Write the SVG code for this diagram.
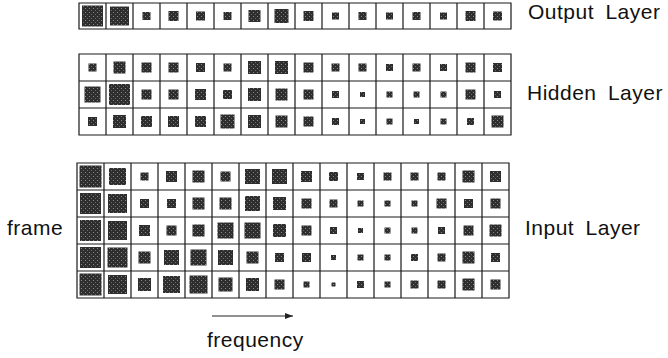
<svg xmlns="http://www.w3.org/2000/svg" width="668" height="358" viewBox="0 0 668 358">
<style>
.g{fill:none;stroke:#1a1a1a;stroke-width:1.2}
.d{fill:url(#st)}
.t{font-family:"Liberation Sans",Arial,sans-serif;font-size:21px;letter-spacing:0.5px;word-spacing:5px;fill:#111}
.c{stroke:#222;stroke-width:1;fill:none}
</style>
<defs>
<pattern id="st" width="4" height="4" patternUnits="userSpaceOnUse">
<rect width="4" height="4" fill="#2e2e2e"/>
<rect x="1" y="0" width="1" height="1" fill="#8a8a8a"/>
<rect x="3" y="2" width="1" height="1" fill="#6a6a6a"/>
</pattern>
<marker id="ah" viewBox="0 0 8 6" refX="8" refY="3" markerWidth="8" markerHeight="6" markerUnits="userSpaceOnUse" orient="auto">
<path d="M0,0 L8,3 L0,6 z" fill="#222"/>
</marker>
</defs>
<rect width="668" height="358" fill="#fff"/>

<g id="output-layer">
<path class="g" d="M79,3h432v26h-432z M106,3v26 M133,3v26 M160,3v26 M187,3v26 M214,3v26 M241,3v26 M268,3v26 M295,3v26 M322,3v26 M349,3v26 M376,3v26 M403,3v26 M430,3v26 M457,3v26 M484,3v26"/>
<g class="d">
<rect x="82" y="5.5" width="21" height="21"/>
<rect x="110" y="6.5" width="19" height="19"/>
<rect x="142.5" y="12" width="8" height="8"/>
<rect x="168.5" y="11" width="10" height="10"/>
<rect x="196" y="11.5" width="9" height="9"/>
<rect x="223.5" y="12" width="8" height="8"/>
<rect x="248.5" y="10" width="12" height="12"/>
<rect x="274.5" y="9" width="14" height="14"/>
<rect x="303.5" y="11" width="10" height="10"/>
<rect x="332" y="12.5" width="7" height="7"/>
<rect x="358.5" y="12" width="8" height="8"/>
<rect x="386" y="12.5" width="7" height="7"/>
<rect x="412.5" y="12" width="8" height="8"/>
<rect x="440" y="12.5" width="7" height="7"/>
<rect x="465.5" y="11" width="10" height="10"/>
<rect x="493" y="11.5" width="9" height="9"/>
</g>
<text class="t" x="528" y="19">Output Layer</text>
</g>

<g id="hidden-layer">
<path class="g" d="M79,54h432v81h-432z M79,81h432 M79,108h432 M106,54v81 M133,54v81 M160,54v81 M187,54v81 M214,54v81 M241,54v81 M268,54v81 M295,54v81 M322,54v81 M349,54v81 M376,54v81 M403,54v81 M430,54v81 M457,54v81 M484,54v81"/>
<g class="d">
<rect x="88.5" y="63.5" width="8" height="8"/>
<rect x="113.5" y="61.5" width="12" height="12"/>
<rect x="141.5" y="62.5" width="10" height="10"/>
<rect x="168.5" y="62.5" width="10" height="10"/>
<rect x="196" y="63" width="9" height="9"/>
<rect x="223.5" y="63.5" width="8" height="8"/>
<rect x="248" y="61" width="13" height="13"/>
<rect x="275" y="61" width="13" height="13"/>
<rect x="303.5" y="62.5" width="10" height="10"/>
<rect x="331.5" y="63.5" width="8" height="8"/>
<rect x="358.5" y="63.5" width="8" height="8"/>
<rect x="386" y="64" width="7" height="7"/>
<rect x="412.5" y="63.5" width="8" height="8"/>
<rect x="440" y="64" width="7" height="7"/>
<rect x="465.5" y="62.5" width="10" height="10"/>
<rect x="493" y="63" width="9" height="9"/>

<rect x="84.5" y="86.5" width="16" height="16"/>
<rect x="109" y="84" width="21" height="21"/>
<rect x="141.5" y="89.5" width="10" height="10"/>
<rect x="168.5" y="89.5" width="10" height="10"/>
<rect x="195" y="89" width="11" height="11"/>
<rect x="223" y="90" width="9" height="9"/>
<rect x="248" y="88" width="13" height="13"/>
<rect x="275.5" y="88.5" width="12" height="12"/>
<rect x="303.5" y="89.5" width="10" height="10"/>
<rect x="332" y="91" width="7" height="7"/>
<rect x="360" y="92" width="5" height="5"/>
<rect x="386.5" y="91.5" width="6" height="6"/>
<rect x="413.5" y="91.5" width="6" height="6"/>
<rect x="440.5" y="91.5" width="6" height="6"/>
<rect x="465.5" y="89.5" width="10" height="10"/>
<rect x="494" y="91" width="7" height="7"/>

<rect x="88" y="117" width="9" height="9"/>
<rect x="113" y="115" width="13" height="13"/>
<rect x="141" y="116" width="11" height="11"/>
<rect x="168" y="116" width="11" height="11"/>
<rect x="195" y="116" width="11" height="11"/>
<rect x="220.5" y="114.5" width="14" height="14"/>
<rect x="248" y="115" width="13" height="13"/>
<rect x="275.5" y="115.5" width="12" height="12"/>
<rect x="303.5" y="116.5" width="10" height="10"/>
<rect x="332" y="118" width="7" height="7"/>
<rect x="360" y="119" width="5" height="5"/>
<rect x="386.5" y="118.5" width="6" height="6"/>
<rect x="414" y="119" width="5" height="5"/>
<rect x="440.5" y="118.5" width="6" height="6"/>
<rect x="467" y="118" width="7" height="7"/>
<rect x="491.5" y="115.5" width="12" height="12"/>
</g>
<text class="t" x="527" y="100">Hidden Layer</text>
</g>

<g id="input-layer">
<path class="g" d="M77,163h432v135h-432z M77,190h432 M77,217h432 M77,244h432 M77,271h432 M104,163v135 M131,163v135 M158,163v135 M185,163v135 M212,163v135 M239,163v135 M266,163v135 M293,163v135 M320,163v135 M347,163v135 M374,163v135 M401,163v135 M428,163v135 M455,163v135 M482,163v135"/>
<g class="d">
<rect x="79.5" y="165.5" width="22" height="22"/>
<rect x="109" y="168" width="17" height="17"/>
<rect x="140.5" y="172.5" width="8" height="8"/>
<rect x="166" y="171" width="11" height="11"/>
<rect x="192.5" y="170.5" width="12" height="12"/>
<rect x="220.5" y="171.5" width="10" height="10"/>
<rect x="245" y="169" width="15" height="15"/>
<rect x="272" y="169" width="15" height="15"/>
<rect x="301" y="171" width="11" height="11"/>
<rect x="329" y="172" width="9" height="9"/>
<rect x="357" y="173" width="7" height="7"/>
<rect x="383.5" y="172.5" width="8" height="8"/>
<rect x="410.5" y="172.5" width="8" height="8"/>
<rect x="437.5" y="172.5" width="8" height="8"/>
<rect x="462.5" y="170.5" width="12" height="12"/>
<rect x="490" y="171" width="11" height="11"/>

<rect x="80" y="193" width="21" height="21"/>
<rect x="108" y="194" width="19" height="19"/>
<rect x="140" y="199" width="9" height="9"/>
<rect x="167" y="199" width="9" height="9"/>
<rect x="192.5" y="197.5" width="12" height="12"/>
<rect x="219.5" y="197.5" width="12" height="12"/>
<rect x="245" y="196" width="15" height="15"/>
<rect x="273" y="197" width="13" height="13"/>
<rect x="301.5" y="198.5" width="10" height="10"/>
<rect x="329.5" y="199.5" width="8" height="8"/>
<rect x="357.5" y="200.5" width="6" height="6"/>
<rect x="384.5" y="200.5" width="6" height="6"/>
<rect x="411.5" y="200.5" width="6" height="6"/>
<rect x="436.5" y="198.5" width="10" height="10"/>
<rect x="464" y="199" width="9" height="9"/>
<rect x="490.5" y="198.5" width="10" height="10"/>

<rect x="80" y="220" width="21" height="21"/>
<rect x="108" y="221" width="19" height="19"/>
<rect x="139" y="225" width="11" height="11"/>
<rect x="166.5" y="225.5" width="10" height="10"/>
<rect x="192.5" y="224.5" width="12" height="12"/>
<rect x="217.5" y="222.5" width="16" height="16"/>
<rect x="244.5" y="222.5" width="16" height="16"/>
<rect x="273" y="224" width="13" height="13"/>
<rect x="301.5" y="225.5" width="10" height="10"/>
<rect x="330" y="227" width="7" height="7"/>
<rect x="358" y="228" width="5" height="5"/>
<rect x="384.5" y="227.5" width="6" height="6"/>
<rect x="411.5" y="227.5" width="6" height="6"/>
<rect x="438" y="227" width="7" height="7"/>
<rect x="463.5" y="225.5" width="10" height="10"/>
<rect x="489.5" y="224.5" width="12" height="12"/>

<rect x="80" y="247" width="21" height="21"/>
<rect x="107.5" y="247.5" width="20" height="20"/>
<rect x="138.5" y="251.5" width="12" height="12"/>
<rect x="164" y="250" width="15" height="15"/>
<rect x="190.5" y="249.5" width="16" height="16"/>
<rect x="218" y="250" width="15" height="15"/>
<rect x="246.5" y="251.5" width="12" height="12"/>
<rect x="275" y="253" width="9" height="9"/>
<rect x="302" y="253" width="9" height="9"/>
<rect x="331" y="255" width="5" height="5"/>
<rect x="357.5" y="254.5" width="6" height="6"/>
<rect x="384.5" y="254.5" width="6" height="6"/>
<rect x="411" y="254" width="7" height="7"/>
<rect x="437.5" y="253.5" width="8" height="8"/>
<rect x="462.5" y="251.5" width="12" height="12"/>
<rect x="491" y="253" width="9" height="9"/>

<rect x="79.5" y="273.5" width="22" height="22"/>
<rect x="108" y="275" width="19" height="19"/>
<rect x="138" y="278" width="13" height="13"/>
<rect x="163" y="276" width="17" height="17"/>
<rect x="189.5" y="275.5" width="18" height="18"/>
<rect x="218.5" y="277.5" width="14" height="14"/>
<rect x="246" y="278" width="13" height="13"/>
<rect x="274.5" y="279.5" width="10" height="10"/>
<rect x="303.5" y="281.5" width="6" height="6"/>
<rect x="331.5" y="282.5" width="4" height="4"/>
<rect x="357" y="281" width="7" height="7"/>
<rect x="384.5" y="281.5" width="6" height="6"/>
<rect x="410.5" y="280.5" width="8" height="8"/>
<rect x="437.5" y="280.5" width="8" height="8"/>
<rect x="462.5" y="278.5" width="12" height="12"/>
<rect x="490.5" y="279.5" width="10" height="10"/>
</g>
<text class="t" x="525" y="235">Input Layer</text>
</g>

<g id="frame-label">
<text class="t" x="7" y="235">frame</text>
</g>

<g id="connectors">
<line class="c" x1="212" y1="316" x2="293" y2="316" marker-end="url(#ah)"/>
</g>

<g id="frequency-label">
<text class="t" x="207" y="347">frequency</text>
</g>
</svg>
